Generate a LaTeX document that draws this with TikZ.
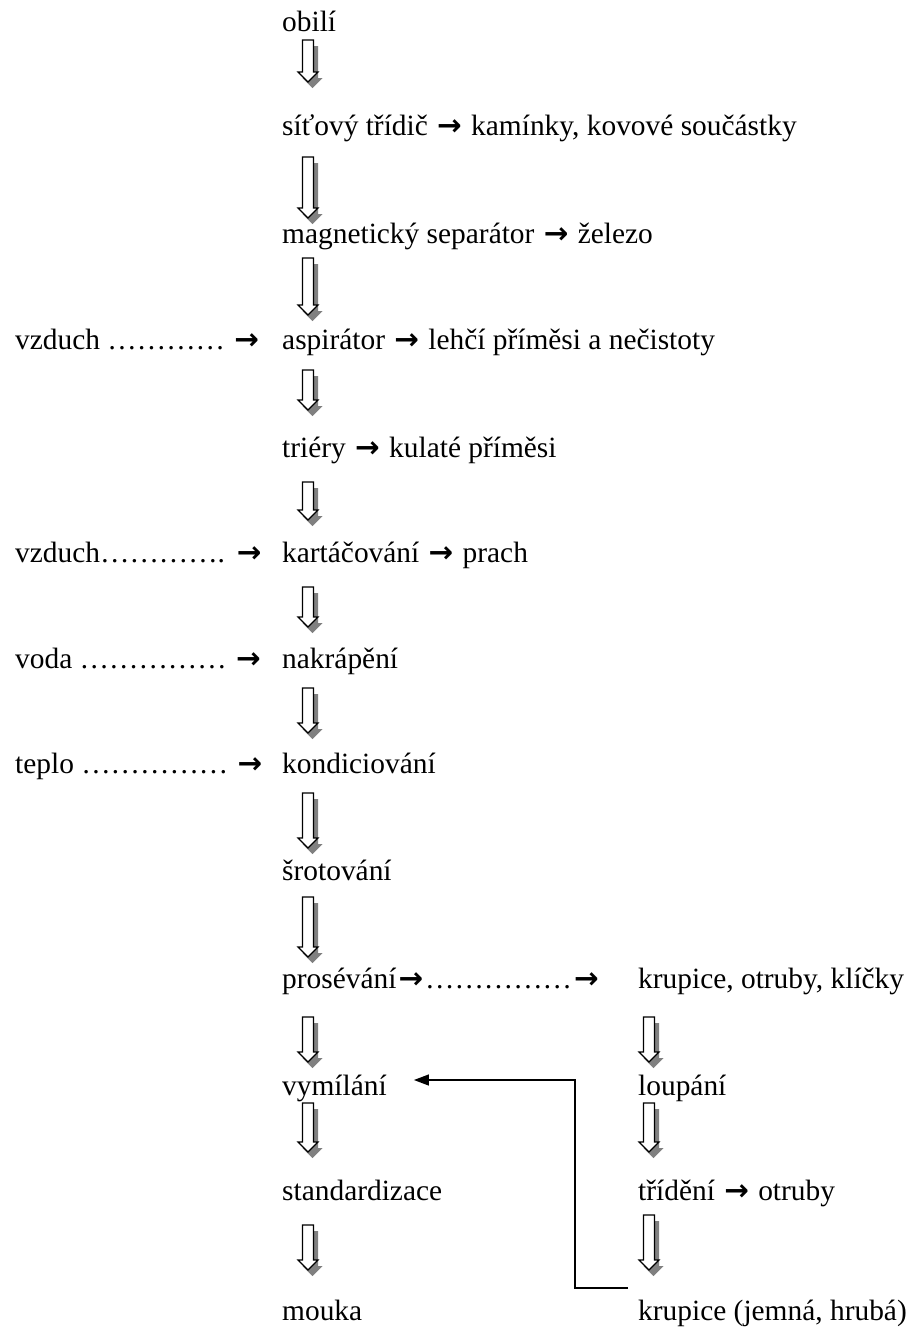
\documentclass[tikz,border=0pt]{standalone}
\usepackage{fontspec}
\setmainfont{Liberation Serif}
\newfontfamily\arrfont{DejaVu Sans Bold}
\usetikzlibrary{calc,arrows.meta}
\newcommand\arr{{\kern2pt\arrfont →\kern2pt}}
\newcommand\flowpath[2]{(\x1-5.5pt+#1,\y1+#2) -- (\x1+5.5pt+#1,\y1+#2) -- (\x1+5.5pt+#1,\y2+10pt+#2) -- (\x1+10pt+#1,\y2+10pt+#2) -- (\x1+#1,\y2+#2) -- (\x1-10pt+#1,\y2+10pt+#2) -- (\x1-5.5pt+#1,\y2+10pt+#2) -- cycle}
% #1 from node, #2 gap below its baseline, #3 to node, #4 gap above its baseline, #5 x offset from text start
\newcommand\flow[5]{%
  \path[flowshadow] let \p1=($(#1.base west)+(#5,-#2)$), \p2=($(#3.base west)+(0,#4)$) in \flowpath{4.5pt}{-6pt};
  \path[flowbox] let \p1=($(#1.base west)+(#5,-#2)$), \p2=($(#3.base west)+(0,#4)$) in \flowpath{0pt}{0pt};
}
\tikzset{
  lbl/.style={anchor=base west, inner sep=0pt, font=\fontsize{29.4}{35}\selectfont},
  flowbox/.style={draw=black, line width=1.2pt, fill=white, line join=miter},
  flowshadow/.style={fill=black!50, draw=none},
  fb/.style={line width=1.3pt, -{Triangle[length=15pt,width=11pt]}},
}
\begin{document}
\begin{tikzpicture}[x=1pt,y=1pt]
\useasboundingbox (0,0) rectangle (914,-1331);
% main column
\node[lbl] (obili) at (282,-31) {obilí};
\node[lbl] (sit) at (282,-135) {síťový třídič \arr{} kamínky, kovové součástky};
\node[lbl] (mag) at (282,-243) {magnetický separátor \arr{} železo};
\node[lbl] (asp) at (282,-349) {aspirátor \arr{} lehčí příměsi a nečistoty};
\node[lbl] (tri) at (282,-457) {triéry \arr{} kulaté příměsi};
\node[lbl] (kar) at (282,-562) {kartáčování \arr{} prach};
\node[lbl] (nak) at (282,-668) {nakrápění};
\node[lbl] (kon) at (282,-773) {kondiciování};
\node[lbl] (srot) at (282,-880) {šrotování};
\node[lbl] (pros) at (282,-988) {prosévání\arr……………\arr};
\node[lbl] (vym) at (282,-1095) {vymílání};
\node[lbl] (std) at (282,-1200) {standardizace};
\node[lbl] (mouka) at (282,-1320) {mouka};
% right column
\node[lbl] (kok) at (638,-988) {krupice, otruby, klíčky};
\node[lbl] (lou) at (638,-1095) {loupání};
\node[lbl] (trid) at (638,-1200) {třídění \arr{} otruby};
\node[lbl] (kjh) at (638,-1320) {krupice (jemná, hrubá)};
% inputs
\node[lbl] (vz1) at (15,-349) {vzduch ………… \arr};
\node[lbl] (vz2) at (15,-562) {vzduch…………. \arr};
\node[lbl] (voda) at (15,-668) {voda …………… \arr};
\node[lbl] (teplo) at (15,-773) {teplo …………… \arr};
% block arrows
\flow{obili}{9}{sit}{53}{26}
\flow{sit}{22}{mag}{25}{26}
\flow{mag}{15}{asp}{34}{26}
\flow{asp}{21}{tri}{47}{26}
\flow{tri}{25}{kar}{42}{26}
\flow{kar}{25}{nak}{41}{26}
\flow{nak}{20}{kon}{40}{26}
\flow{kon}{20}{srot}{32}{26}
\flow{srot}{17}{pros}{31}{26}
\flow{pros}{29}{vym}{33}{26}
\flow{vym}{8}{std}{48}{26}
\flow{std}{25}{mouka}{50}{26}
\flow{kok}{29}{lou}{33}{11}
\flow{lou}{8}{trid}{48}{11}
\flow{trid}{15}{kjh}{50}{11}
% feedback
\coordinate (fbend) at ($(vym.base east)+(27,15)$);
\draw[fb] ($(kjh.base west)+(-10,32)$) -- ++(-53,0) |- (fbend);
\end{tikzpicture}
\end{document}
